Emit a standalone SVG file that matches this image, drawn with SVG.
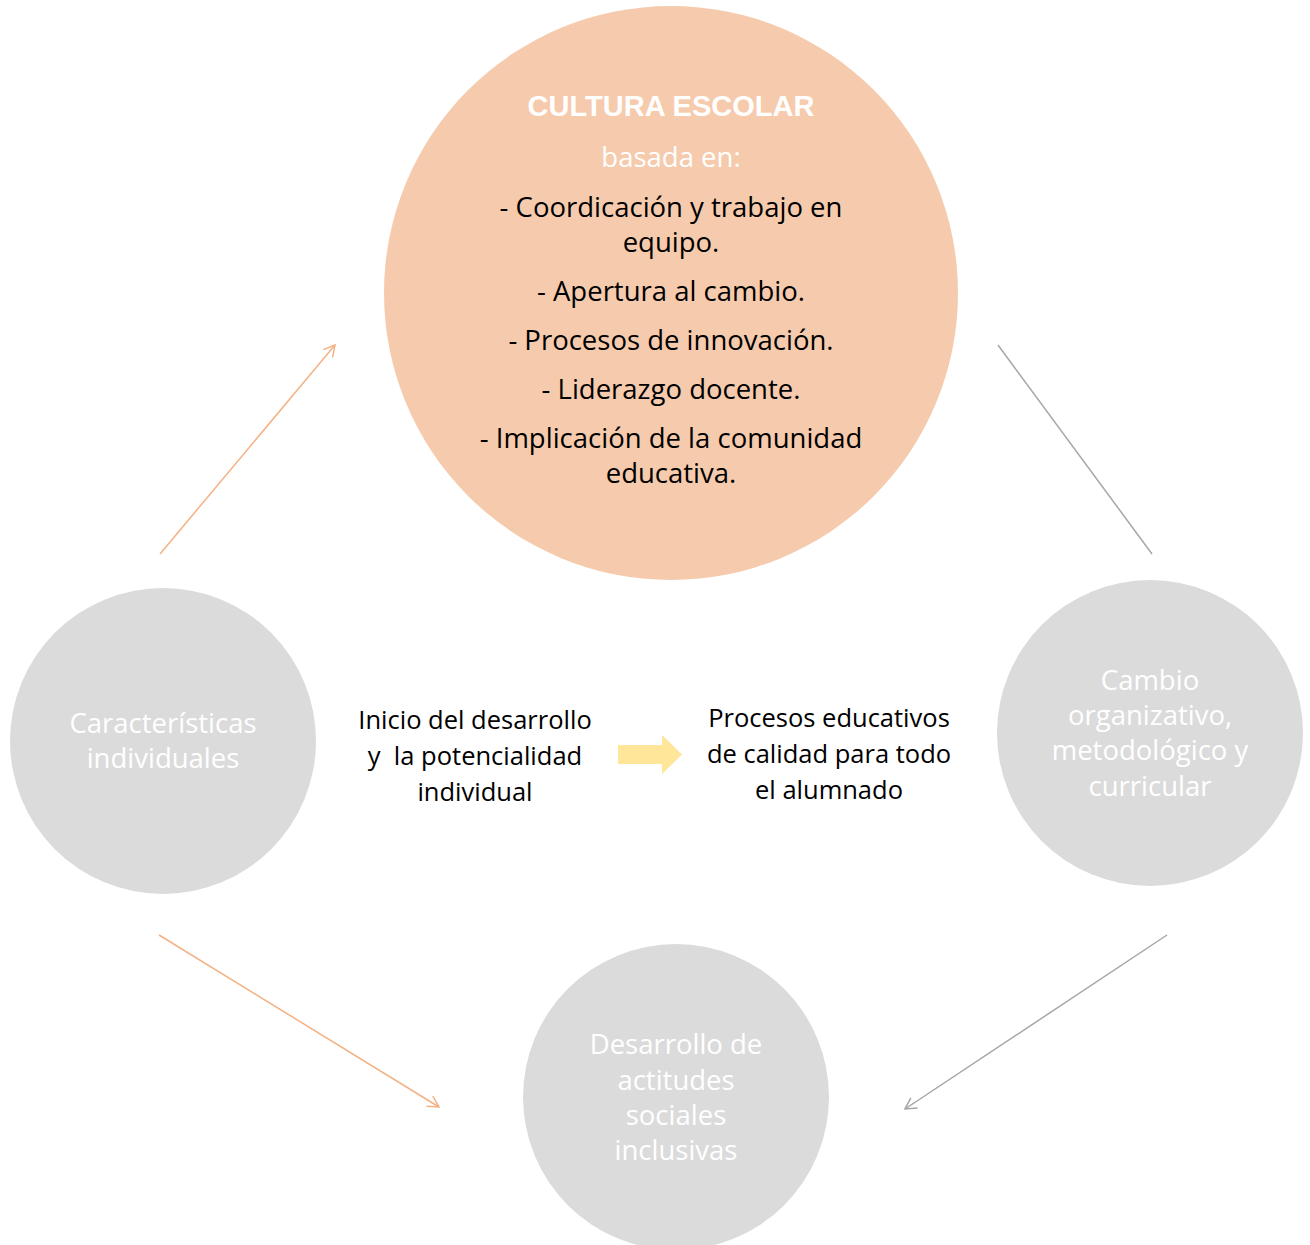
<svg xmlns="http://www.w3.org/2000/svg" width="1310" height="1245" viewBox="0 0 1310 1245">
<style>
text{font-family:"Open Sans","Liberation Sans",Arial,sans-serif;text-anchor:middle}
.w{fill:#ffffff;font-size:27.5px}
.b{fill:#000000;font-size:27.5px}
.c{fill:#000000;font-size:25.5px}
.t{fill:#ffffff;font-size:29px;font-weight:bold;font-family:"Liberation Sans",Arial,sans-serif}
.g{fill:#DBDBDB}
</style>
<defs>
<marker id="ao" markerWidth="14" markerHeight="14" refX="12" refY="7" orient="auto" markerUnits="userSpaceOnUse"><path d="M1,1 L12,7 L1,13" fill="none" stroke="#F4B183" stroke-width="1.5"/></marker>
<marker id="ag" markerWidth="14" markerHeight="14" refX="12" refY="7" orient="auto" markerUnits="userSpaceOnUse"><path d="M1,1 L12,7 L1,13" fill="none" stroke="#A6A6A6" stroke-width="1.5"/></marker>
</defs>
<rect width="1310" height="1245" fill="#ffffff"/>
<g id="n-cultura">
<circle cx="671" cy="293" r="287" fill="#F6CBAD"/>
<text class="t" x="671" y="116">CULTURA ESCOLAR</text>
<text class="w" x="671" y="167">basada en:</text>
<text class="b" x="671" y="217">- Coordicación y trabajo en</text>
<text class="b" x="671" y="252">equipo.</text>
<text class="b" x="671" y="301">- Apertura al cambio.</text>
<text class="b" x="671" y="350">- Procesos de innovación.</text>
<text class="b" x="671" y="399">- Liderazgo docente.</text>
<text class="b" x="671" y="448">- Implicación de la comunidad</text>
<text class="b" x="671" y="483">educativa.</text>
</g>
<g id="n-caracteristicas">
<circle class="g" cx="163" cy="741" r="153"/>
<text class="w" x="163" y="733">Características</text>
<text class="w" x="163" y="768">individuales</text>
</g>
<g id="n-cambio">
<circle class="g" cx="1150" cy="733" r="153"/>
<text class="w" x="1150" y="690">Cambio</text>
<text class="w" x="1150" y="725">organizativo,</text>
<text class="w" x="1150" y="760">metodológico y</text>
<text class="w" x="1150" y="796">curricular</text>
</g>
<g id="n-desarrollo">
<circle class="g" cx="676" cy="1097" r="153"/>
<text class="w" x="676" y="1054">Desarrollo de</text>
<text class="w" x="676" y="1090">actitudes</text>
<text class="w" x="676" y="1125">sociales</text>
<text class="w" x="676" y="1160">inclusivas</text>
</g>
<g id="n-inicio">
<text class="c" x="475" y="729">Inicio del desarrollo</text>
<text class="c" x="475" y="765" xml:space="preserve">y  la potencialidad</text>
<text class="c" x="475" y="801">individual</text>
</g>
<g id="n-procesos">
<text class="c" x="829" y="727">Procesos educativos</text>
<text class="c" x="829" y="763">de calidad para todo</text>
<text class="c" x="829" y="799">el alumnado</text>
</g>
<g id="connectors">
<line x1="160" y1="554" x2="335" y2="345" stroke="#F4B183" stroke-width="1.5" marker-end="url(#ao)"/>
<line x1="998" y1="345" x2="1152" y2="554" stroke="#A6A6A6" stroke-width="1.5"/>
<line x1="159" y1="935" x2="439" y2="1107" stroke="#F4B183" stroke-width="1.5" marker-end="url(#ao)"/>
<line x1="1167" y1="935" x2="905" y2="1109" stroke="#A6A6A6" stroke-width="1.5" marker-end="url(#ag)"/>
<path d="M618,745 H662 V735 L682,754.5 L662,774 V764 H618 Z" fill="#FFE699"/>
</g>
</svg>
